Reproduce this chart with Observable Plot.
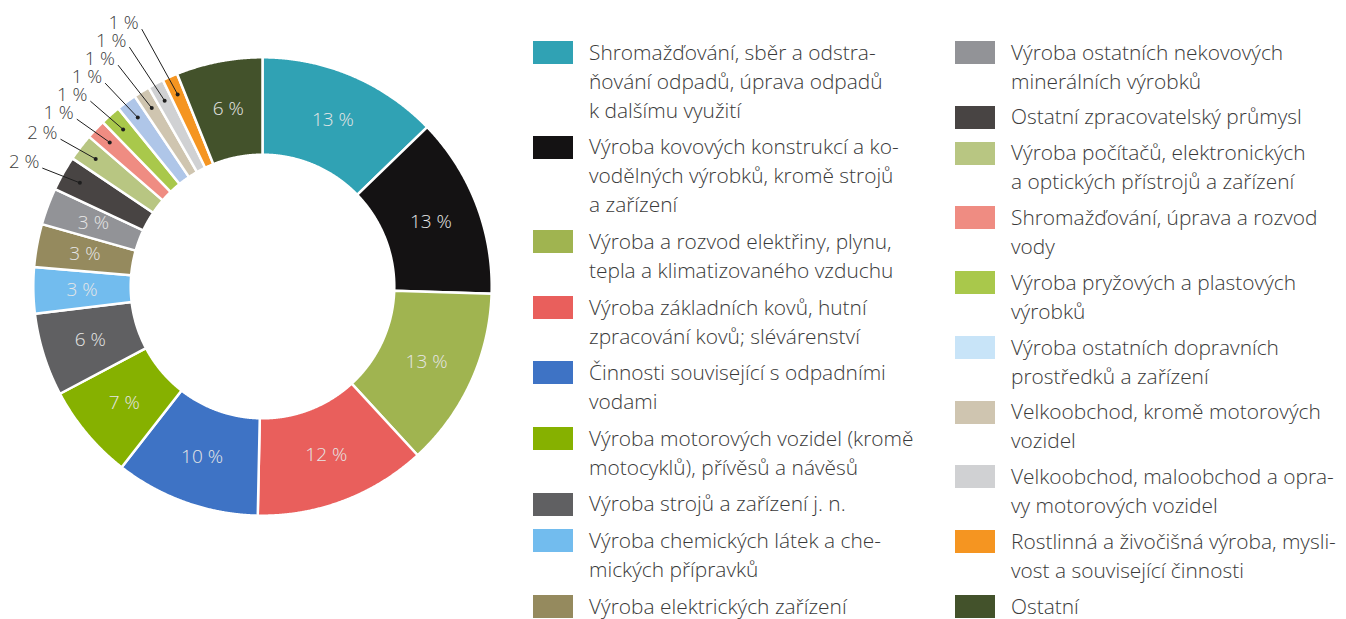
<!DOCTYPE html>
<html>
<head>
<meta charset="utf-8">
<script src="https://cdn.jsdelivr.net/npm/d3@7"></script>
<script src="https://cdn.jsdelivr.net/npm/@observablehq/plot@0.6"></script>
<style>
  html, body { margin: 0; padding: 0; background: #fff; overflow: hidden; }
  #wrap { position: relative; width: 1346px; height: 619px; font-family: "Open Sans", sans-serif; font-weight: 300; }
  #chart { position: absolute; left: 0; top: 0; }
  .col { position: absolute; top: 37.7px; height: 583px; display: flex; flex-direction: column; justify-content: space-between; }
  .item { display: flex; align-items: flex-start; }
  .sw { width: 40px; height: 23px; margin-top: 3.3px; flex: none; }
  .tx { margin-left: 16px; font-size: 20.9px; line-height: 29px; color: #3a3a3a; white-space: pre; }
</style>
</head>
<body>
<div id="wrap">
  <div id="chart"></div>
  <div class="col" id="col1" style="left:533px"></div>
  <div class="col" id="col2" style="left:955px"></div>
</div>
<script>
// ---- data ----
const names = [
  "Shromažďování, sběr a odstra-\nňování odpadů, úprava odpadů\nk dalšímu využití",
  "Výroba kovových konstrukcí a ko-\nvodělných výrobků, kromě strojů\na zařízení",
  "Výroba a rozvod elektřiny, plynu,\ntepla a klimatizovaného vzduchu",
  "Výroba základních kovů, hutní\nzpracování kovů; slévárenství",
  "Činnosti související s odpadními\nvodami",
  "Výroba motorových vozidel (kromě\nmotocyklů), přívěsů a návěsů",
  "Výroba strojů a zařízení j. n.",
  "Výroba chemických látek a che-\nmických přípravků",
  "Výroba elektrických zařízení",
  "Výroba ostatních nekovových\nminerálních výrobků",
  "Ostatní zpracovatelský průmysl",
  "Výroba počítačů, elektronických\na optických přístrojů a zařízení",
  "Shromažďování, úprava a rozvod\nvody",
  "Výroba pryžových a plastových\nvýrobků",
  "Výroba ostatních dopravních\nprostředků a zařízení",
  "Velkoobchod, kromě motorových\nvozidel",
  "Velkoobchod, maloobchod a opra-\nvy motorových vozidel",
  "Rostlinná a živočišná výroba, mysli-\nvost a související činnosti",
  "Ostatní"
];
const values = [12.76, 12.75, 12.66, 12.16, 10.2, 6.72, 5.86, 3.25, 3.03, 2.6, 2.45, 1.9, 1.39, 1.44, 1.42, 1.14, 1.11, 1.08, 6.08];
const labels = ["13 %", "13 %", "13 %", "12 %", "10 %", "7 %", "6 %", "3 %", "3 %", "3 %", "2 %", "2 %", "1 %", "1 %", "1 %", "1 %", "1 %", "1 %", "6 %"];
const colors = ["#30a2b4", "#141213", "#a0b450", "#e95f5c", "#3e73c5", "#86b100", "#606062", "#72bcee", "#958a5e", "#929397", "#484443", "#b8c682", "#ef8c82", "#a9c84b", "#afc6e8", "#cfc5b0", "#d0d1d3", "#f59521", "#43522b"];
const legendColors = ["#30a2b4", "#141213", "#a0b450", "#e95f5c", "#3e73c5", "#86b100", "#606062", "#72bcee", "#958a5e", "#929397", "#484443", "#b8c682", "#ef8c82", "#a9c84b", "#c8e4f8", "#cfc5b0", "#d0d1d3", "#f59521", "#43522b"];
const legendCol1Count = 9;

// ---- layout ----
const W = 520, H = 619, CX = 262, CY = 286;
const R_OUT = 229.2, R_IN = 131.8, R_MID = 180.5, R_DOT = 210, R_LEAD = 250, LEAD_GAP = 18;
const LEAD_ROT = -1.3 * Math.PI / 180;

const arcs = d3.pie().sort(null).value(d => d)(values);
const poly = [];
arcs.forEach((a, i) => {
  const n = Math.max(4, Math.ceil((a.endAngle - a.startAngle) / 0.004));
  for (let k = 0; k <= n; k++) {
    const t = a.startAngle + (a.endAngle - a.startAngle) * k / n;
    poly.push({name: names[i], x: R_OUT * Math.sin(t), y: R_OUT * Math.cos(t)});
  }
  for (let k = n; k >= 0; k--) {
    const t = a.startAngle + (a.endAngle - a.startAngle) * k / n;
    poly.push({name: names[i], x: R_IN * Math.sin(t), y: R_IN * Math.cos(t)});
  }
});

const inner = [], outer = [];
let lastY = -Infinity;
arcs.forEach((a, i) => {
  const m = (a.startAngle + a.endAngle) / 2;
  if (values[i] >= 2.5) {
    inner.push({label: labels[i], x: R_MID * Math.sin(m), y: R_MID * Math.cos(m)});
  } else {
    const e = m + LEAD_ROT;
    let ye = R_LEAD * Math.cos(e);
    if (ye < lastY + LEAD_GAP) ye = lastY + LEAD_GAP;
    lastY = ye;
    const r = ye / Math.cos(e);
    outer.push({label: labels[i], x1: R_DOT * Math.sin(m), y1: R_DOT * Math.cos(m), x2: r * Math.sin(e), y2: ye});
  }
});

const chart = Plot.plot({
  width: W, height: H,
  margin: 0,
  x: {domain: [-CX, W - CX], range: [0, W], axis: null},
  y: {domain: [-(H - CY), CY], range: [H, 0], axis: null},
  color: {domain: names, range: colors},
  style: {fontFamily: "'Open Sans', sans-serif", fontWeight: 300, background: "white"},
  marks: [
    Plot.line(poly, {x: "x", y: "y", z: "name", fill: "name", stroke: "white", strokeWidth: 2.5, curve: "linear-closed", strokeLinejoin: "round"}),
    Plot.text(inner, {x: "x", y: "y", text: "label", fill: "#e6e6e6", fontSize: 19, fontWeight: 300}),
    Plot.link(outer, {x1: "x1", y1: "y1", x2: "x2", y2: "y2", stroke: "#1e1e1e", strokeWidth: 1}),
    Plot.dot(outer, {x: "x1", y: "y1", r: 2, fill: "#1e1e1e"}),
    Plot.text(outer, {x: "x2", y: "y2", text: "label", textAnchor: "end", dx: -3, dy: -6, fill: "#3c3c3c", fontSize: 18.5, fontWeight: 300})
  ]
});
document.getElementById("chart").appendChild(chart);

// ---- legend ----
names.forEach((n, i) => {
  const item = document.createElement("div");
  item.className = "item";
  const sw = document.createElement("div");
  sw.className = "sw";
  sw.style.background = legendColors[i];
  const tx = document.createElement("div");
  tx.className = "tx";
  tx.textContent = n;
  item.appendChild(sw); item.appendChild(tx);
  document.getElementById(i < legendCol1Count ? "col1" : "col2").appendChild(item);
});
</script>
</body>
</html>
